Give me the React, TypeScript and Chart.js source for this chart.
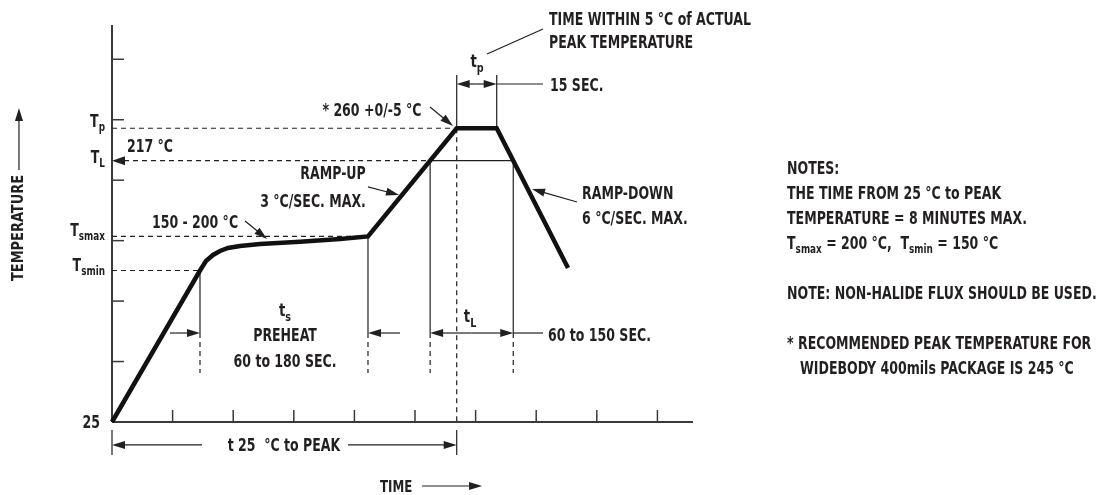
import React, { useEffect, useRef } from "react";
import { Chart, registerables } from "chart.js";

Chart.register(...registerables);

// ---- Data (schematic units: 1 unit = one tick interval) ----
const profileTime = [0, 1.452, 1.551, 1.667, 1.782, 1.914, 2.112, 2.442, 3.102, 3.762, 4.224, 5.688, 6.348, 7.525];
const profileTemp = [0, 2.506, 2.663, 2.763, 2.829, 2.878, 2.911, 2.945, 2.983, 3.027, 3.069, 4.859, 4.859, 2.548];
const timeTicks = [1, 2, 3, 4, 5, 6, 7, 8, 9];
const tempTicks = [1, 2, 3, 4, 5, 6];
const levelMain = ["T", "T", "T", "T"];
const levelSub = ["p", "L", "smax", "smin"];
const levelValue = [4.859, 4.323, 3.069, 2.506];
const baseLabel = "25";

const X_MAX = 9.587;
const Y_MAX = 6.567;
const iSoakStart = 1;
const iSoakEnd = 10;
const iPeakStart = 11;
const iPeakEnd = 12;

const INK = "#231f20";
const FONT = '"DejaVu Sans Condensed", "DejaVu Sans", sans-serif';
const SQUEEZE = 0.82;

type Seg = [string, boolean];

function crossing(level: number, from: number, to: number): number {
  for (let i = from; i < to; i++) {
    const a = profileTemp[i], b = profileTemp[i + 1];
    if ((a - level) * (b - level) <= 0 && a !== b) {
      return profileTime[i] + ((level - a) / (b - a)) * (profileTime[i + 1] - profileTime[i]);
    }
  }
  return profileTime[from];
}

const annotationPlugin = {
  id: "reflowAnnotations",
  beforeDatasetsDraw(chart: any) {
    const ctx: CanvasRenderingContext2D = chart.ctx;
    const xs = chart.scales.x, ys = chart.scales.y;
    const X = (v: number) => xs.getPixelForValue(v);
    const Y = (v: number) => ys.getPixelForValue(v);
    const Tp = levelValue[0], TL = levelValue[1], Tsmax = levelValue[2], Tsmin = levelValue[3];
    const tSoakStart = profileTime[iSoakStart];
    const tSoakEnd = profileTime[iSoakEnd];
    const tPeakStart = profileTime[iPeakStart];
    const tPeakEnd = profileTime[iPeakEnd];
    const tL1 = crossing(TL, iSoakEnd, iPeakStart);
    const tL2 = crossing(TL, iPeakEnd, profileTime.length - 1);
    const arrowLvl = 1.472, dashEnd = 0.811;

    ctx.save();
    ctx.strokeStyle = INK;
    ctx.fillStyle = INK;
    ctx.lineWidth = 1.2;

    const line = (x1: number, y1: number, x2: number, y2: number, dashed = false) => {
      ctx.save();
      ctx.setLineDash(dashed ? [5, 4] : []);
      ctx.beginPath();
      ctx.moveTo(x1, y1);
      ctx.lineTo(x2, y2);
      ctx.stroke();
      ctx.restore();
    };
    const head = (x1: number, y1: number, x2: number, y2: number, len = 13, hw = 4) => {
      const a = Math.atan2(y2 - y1, x2 - x1);
      ctx.beginPath();
      ctx.moveTo(x2, y2);
      ctx.lineTo(x2 - len * Math.cos(a) + hw * Math.sin(a), y2 - len * Math.sin(a) - hw * Math.cos(a));
      ctx.lineTo(x2 - len * Math.cos(a) - hw * Math.sin(a), y2 - len * Math.sin(a) + hw * Math.cos(a));
      ctx.closePath();
      ctx.fill();
    };
    const arrow = (x1: number, y1: number, x2: number, y2: number, len = 13, hw = 4) => {
      const a = Math.atan2(y2 - y1, x2 - x1);
      line(x1, y1, x2 - (len - 2) * Math.cos(a), y2 - (len - 2) * Math.sin(a));
      head(x1, y1, x2, y2, len, hw);
    };

    // axes
    ctx.save();
    ctx.strokeStyle = "#3a3a3a";
    ctx.lineWidth = 2;
    line(X(0), Y(Y_MAX), X(0), Y(0));
    line(X(0), Y(0), X(X_MAX), Y(0));
    ctx.lineWidth = 1.5;
    tempTicks.forEach((v) => line(X(0), Y(v), X(0) + 12, Y(v)));
    timeTicks.forEach((v) => line(X(v), Y(0), X(v), Y(0) - 12));
    ctx.restore();

    // level guides
    line(X(0), Y(Tp), X(tPeakStart), Y(Tp), true);
    head(X(0) + 14, Y(TL), X(0), Y(TL), 13, 4.5);
    line(X(0) + 12, Y(TL), X(tL1), Y(TL), true);
    line(X(tL1), Y(TL), X(tL2), Y(TL));
    line(X(0), Y(Tsmax), X(tSoakEnd), Y(Tsmax), true);
    line(X(0), Y(Tsmin), X(tSoakStart), Y(Tsmin), true);

    // preheat verticals
    line(X(tSoakStart), Y(Tsmin), X(tSoakStart), Y(arrowLvl));
    line(X(tSoakStart), Y(arrowLvl), X(tSoakStart), Y(dashEnd), true);
    line(X(tSoakEnd), Y(Tsmax), X(tSoakEnd), Y(arrowLvl));
    line(X(tSoakEnd), Y(arrowLvl), X(tSoakEnd), Y(dashEnd), true);
    arrow(X(0.957), Y(arrowLvl), X(tSoakStart), Y(arrowLvl));
    arrow(X(4.752), Y(arrowLvl), X(tSoakEnd), Y(arrowLvl));

    // liquidus verticals
    line(X(tL1), Y(TL), X(tL1), Y(arrowLvl));
    line(X(tL1), Y(arrowLvl), X(tL1), Y(dashEnd), true);
    line(X(tL2), Y(TL), X(tL2), Y(arrowLvl));
    line(X(tL2), Y(arrowLvl), X(tL2), Y(dashEnd), true);
    const tLm = (tL1 + tL2) / 2;
    arrow(X(tLm), Y(arrowLvl), X(tL1), Y(arrowLvl));
    arrow(X(tLm), Y(arrowLvl), X(tL2), Y(arrowLvl));
    line(X(tL2), Y(arrowLvl), X(7.112), Y(arrowLvl));

    // peak vertical + t25 to peak
    line(X(tPeakStart), Y(Tp), X(tPeakStart), Y(0), true);
    line(X(tPeakStart), Y(-0.132), X(tPeakStart), Y(-0.546));
    line(X(0), Y(-0.132), X(0), Y(-0.546));
    arrow(X(1.485), Y(-0.38), X(0), Y(-0.38));
    arrow(X(3.894), Y(-0.38), X(tPeakStart), Y(-0.38));

    // tp
    line(X(tPeakStart), Y(Tp), X(tPeakStart), Y(5.74));
    line(X(tPeakEnd), Y(Tp), X(tPeakEnd), Y(5.74));
    const tpm = (tPeakStart + tPeakEnd) / 2;
    arrow(X(tpm), Y(5.591), X(tPeakStart), Y(5.591));
    arrow(X(tpm), Y(5.591), X(tPeakEnd), Y(5.591));
    line(X(tPeakEnd), Y(5.591), X(7.112), Y(5.591));
    line(X(6.188), Y(6.088), X(7.112), Y(6.501));

    // annotation arrows
    arrow(X(5.248), Y(5.211), X(5.627), Y(4.896));
    arrow(X(4.224), Y(3.888), X(4.736), Y(3.755));
    arrow(X(2.195), Y(3.325), X(2.558), Y(3.027));
    arrow(X(7.673), Y(3.639), X(6.931), Y(3.854));
    // axis title arrows
    arrow(X(-1.535), Y(4.169), X(-1.535), Y(5.194));
    arrow(X(5.116), Y(-1.059), X(6.106), Y(-1.059));
    ctx.restore();
  },
  afterDatasetsDraw(chart: any) {
    const ctx: CanvasRenderingContext2D = chart.ctx;
    const xs = chart.scales.x, ys = chart.scales.y;
    const X = (v: number) => xs.getPixelForValue(v);
    const Y = (v: number) => ys.getPixelForValue(v);
    ctx.save();
    ctx.fillStyle = INK;
    ctx.textBaseline = "alphabetic";
    const SIZE = 17;
    const rich = (segs: Seg[], ux: number, uy: number, align: "left" | "center" | "right" = "left", size = SIZE, k = SQUEEZE) => {
      const sub = Math.round(size * 0.7);
      let w = 0;
      segs.forEach(([t, s]) => {
        ctx.font = `bold ${s ? sub : size}px ${FONT}`;
        w += ctx.measureText(t).width;
      });
      let x = X(ux);
      if (align === "center") x -= (w * k) / 2;
      else if (align === "right") x -= w * k;
      const base = Y(uy) + size * 0.36;
      ctx.save();
      ctx.translate(x, base);
      ctx.scale(k, 1);
      ctx.textAlign = "left";
      let cx = 0;
      segs.forEach(([t, s]) => {
        ctx.font = `bold ${s ? sub : size}px ${FONT}`;
        ctx.fillText(t, cx, s ? size * 0.25 : 0);
        cx += ctx.measureText(t).width;
      });
      ctx.restore();
    };
    const txt = (s: string, ux: number, uy: number, align: "left" | "center" | "right" = "left", size = SIZE) =>
      rich([[s, false]], ux, uy, align, size);

    // y labels
    txt(baseLabel, -0.198, 0, "right");
    levelValue.forEach((v, i) => {
      const yy = [4.979, 4.384, 3.176, 2.597][i];
      rich([[levelMain[i], false], [levelSub[i], true]], -0.116, yy, "right");
    });

    txt("TIME WITHIN 5 °C of ACTUAL", 7.211, 6.675);
    txt("PEAK TEMPERATURE", 7.211, 6.286);
    rich([["t", false], ["p", true]], 6.023, 5.972, "center", 18);
    txt("15 SEC.", 7.228, 5.575);
    txt("* 260 +0/-5 °C", 4.29, 5.161, "center");
    txt("217 °C", 0.248, 4.566);
    txt("RAMP-UP", 3.647, 4.119, "center");
    txt("3 °C/SEC. MAX.", 3.317, 3.656, "center");
    txt("150 - 200 °C", 1.37, 3.309, "center");
    txt("RAMP-DOWN", 7.756, 3.788);
    txt("6 °C/SEC. MAX.", 7.756, 3.375);
    rich([["t", false], ["s", true]], 2.855, 1.853, "center", 18);
    txt("PREHEAT", 2.855, 1.439, "center");
    txt("60 to 180 SEC.", 2.855, 1.009, "center");
    rich([["t", false], ["L", true]], 5.908, 1.754, "center", 18);
    txt("60 to 150 SEC.", 7.195, 1.439);
    txt("t 25  °C to PEAK", 2.838, -0.38, "center");
    txt("TIME", 4.422, -1.059, "left", 16);

    // notes
    txt("NOTES:", 11.139, 4.21);
    txt("THE TIME FROM 25 °C to PEAK", 11.139, 3.797);
    txt("TEMPERATURE = 8 MINUTES MAX.", 11.139, 3.383);
    rich([["T", false], ["smax", true], [" = 200 °C,  T", false], ["smin", true], [" = 150 °C", false]], 11.139, 2.969);
    txt("NOTE: NON-HALIDE FLUX SHOULD BE USED.", 11.139, 2.142);
    txt("* RECOMMENDED PEAK TEMPERATURE FOR", 11.139, 1.315);
    txt("WIDEBODY 400mils PACKAGE IS 245 °C", 11.353, 0.902);

    // rotated axis title
    ctx.save();
    ctx.translate(X(-1.535), Y(3.209));
    ctx.rotate(-Math.PI / 2);
    ctx.scale(0.9, 1);
    ctx.font = `bold 16px ${FONT}`;
    ctx.textAlign = "center";
    ctx.textBaseline = "middle";
    ctx.fillText("TEMPERATURE", 0, 0);
    ctx.restore();
    ctx.restore();
  },
};

export default function App() {
  const ref = useRef<HTMLCanvasElement | null>(null);
  useEffect(() => {
    if (!ref.current) return;
    const chart = new Chart(ref.current, {
      type: "scatter",
      data: {
        datasets: [
          {
            data: profileTime.map((t, i) => ({ x: t, y: profileTemp[i] })),
            showLine: true,
            borderColor: "#111111",
            borderWidth: 4.5,
            pointRadius: 0,
            tension: 0,
            clip: false as any,
            borderJoinStyle: "miter",
            borderCapStyle: "butt",
          } as any,
        ],
      },
      options: {
        responsive: false,
        animation: false,
        layout: { padding: { left: 112, top: 25, right: 403, bottom: 73 } },
        scales: {
          x: { type: "linear", min: 0, max: X_MAX, display: false },
          y: { type: "linear", min: 0, max: Y_MAX, display: false },
        },
        plugins: { legend: { display: false }, tooltip: { enabled: false } },
      },
      plugins: [annotationPlugin],
    });
    return () => chart.destroy();
  }, []);
  return (
    <div style={{ position: "fixed", left: 0, top: 0, width: 1096, height: 495, background: "#fff" }}>
      <canvas ref={ref} width={1096} height={495} style={{ display: "block" }} />
    </div>
  );
}
